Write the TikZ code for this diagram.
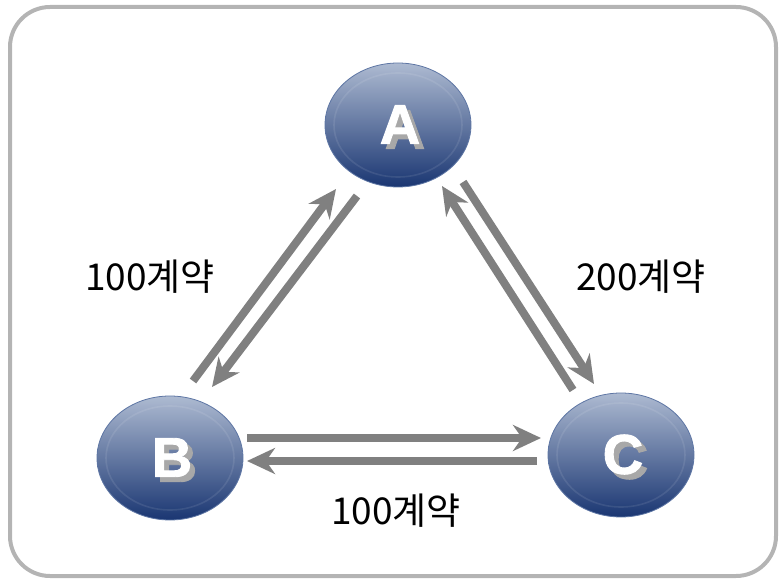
\documentclass[tikz,border=0pt]{standalone}
\usepackage{fontspec}
\newfontfamily\krfont{Noto Sans CJK KR}
\newfontfamily\letterfont{Liberation Sans}[BoldFeatures={FakeBold=1.6}]
\usetikzlibrary{shapes.geometric,arrows.meta}
\definecolor{framegray}{HTML}{B4B4B4}
\definecolor{arrowgray}{HTML}{808080}
\definecolor{balltop}{HTML}{ADBAD1}
\definecolor{ballbottom}{HTML}{1A3672}
\definecolor{ballrim}{HTML}{5E76A4}
\definecolor{shadowgray}{HTML}{A8A8A8}

% white capital with a grey drop shadow behind it
\newcommand{\shadowletter}[1]{\rlap{\hspace{5pt}\raisebox{-5pt}{\textcolor{shadowgray}{#1}}}#1}

\tikzset{
  ball/.style={ellipse, minimum width=146pt, minimum height=124pt, inner sep=0pt,
    draw=ballrim, line width=0.8pt, top color=balltop, bottom color=ballbottom},
  ring/.style={draw=white, draw opacity=0.09, line width=1.6pt},
  letter/.style={font=\letterfont\bfseries\fontsize{56}{56}\selectfont, text=white, inner sep=0pt},
  flow/.style={draw=arrowgray, line width=8pt, -{Stealth[length=28pt,width=26pt,inset=9pt]}},
  lbl/.style={font=\krfont\fontsize{37}{37}\selectfont, text=black, inner sep=0pt},
}

\begin{document}
\begin{tikzpicture}[x=1pt,y=-1pt]
  \useasboundingbox (0,0) rectangle (779,580);
  % outer frame
  \draw[framegray, line width=4pt, rounded corners=40pt] (10,7) rectangle (776,576);

  % the three parties
  \node[ball] (A) at (398,125) {};
  \node[ball] (B) at (170,458) {};
  \node[ball] (C) at (621,455) {};
  \foreach \n in {A,B,C} {
    \draw[ring] (\n) ellipse (64pt and 52pt);
    \node[letter, shift={(2,2)}] (\n t) at (\n) {\shadowletter{\n}};
  }

  % arrow end points
  \coordinate (ba0) at (193,381);
  \coordinate (ba1) at (336,189);
  \coordinate (ab0) at (357,196);
  \coordinate (ab1) at (212,387);
  \coordinate (ca0) at (573,390);
  \coordinate (ca1) at (442,186);
  \coordinate (ac0) at (463,182);
  \coordinate (ac1) at (594,384);
  \coordinate (bc0) at (247,438);
  \coordinate (bc1) at (541,438);
  \coordinate (cb0) at (537,461);
  \coordinate (cb1) at (247,461);

  \draw[flow] (ba0) -- (ba1);
  \draw[flow] (ab0) -- (ab1);
  \draw[flow] (ca0) -- (ca1);
  \draw[flow] (ac0) -- (ac1);
  \draw[flow] (bc0) -- (bc1);
  \draw[flow] (cb0) -- (cb1);

  % contract labels
  \node[lbl] (lab) at (150,277) {100계약};
  \node[lbl] (lac) at (641,277) {200계약};
  \node[lbl] (lbc) at (396,511) {100계약};
\end{tikzpicture}
\end{document}
